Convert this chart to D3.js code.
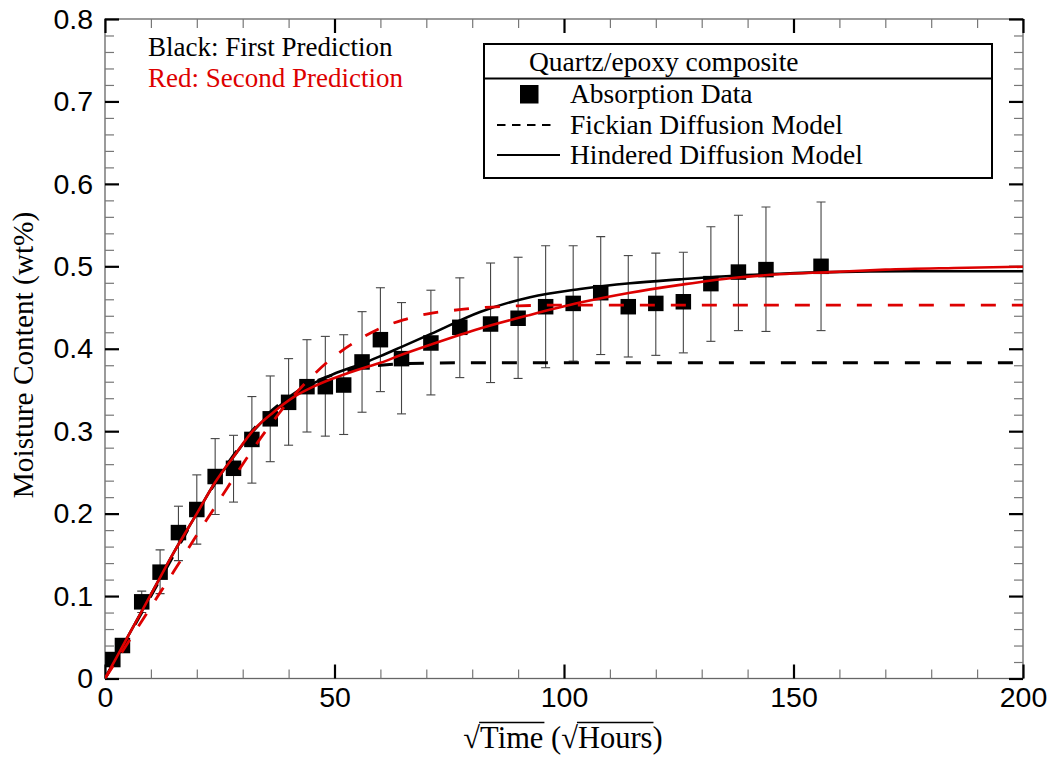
<!DOCTYPE html>
<html><head><meta charset="utf-8">
<script src="https://cdn.jsdelivr.net/npm/d3@7"></script>
<style>body{margin:0;background:#fff}svg{display:block}</style>
</head><body>
<script>
// ---- data ----
const xMajorTicks = [0, 50, 100, 150, 200];
const xMinorTicks = [10,20,30,40,60,70,80,90,110,120,130,140,160,170,180,190];
const yMajorTicks = [0, 0.1, 0.2, 0.3, 0.4, 0.5, 0.6, 0.7, 0.8];
const yMinorTicks = [0.02,0.04,0.06,0.08,0.12,0.14,0.16,0.18,0.22,0.24,0.26,0.28,0.32,0.34,0.36,0.38,0.42,0.44,0.46,0.48,0.52,0.54,0.56,0.58,0.62,0.64,0.66,0.68,0.72,0.74,0.76,0.78];

const dataX   = [1.7, 3.8, 8, 12, 16, 20, 24, 28, 32, 36, 40, 44, 48, 52, 56, 60, 64.6, 71, 77.3, 84, 90, 96, 102, 108, 114, 120, 126, 132, 138, 144, 156];
const dataY   = [0.023,0.040,0.093,0.129,0.177,0.205,0.245,0.255,0.290,0.315,0.335,0.354,0.354,0.356,0.384,0.411,0.388,0.407,0.426,0.430,0.437,0.451,0.455,0.468,0.451,0.455,0.457,0.479,0.493,0.496,0.500];
const errHigh = [0.027,0.045,0.106,0.156,0.209,0.247,0.291,0.295,0.342,0.367,0.388,0.411,0.415,0.417,0.445,0.474,0.456,0.471,0.486,0.504,0.511,0.525,0.525,0.536,0.513,0.516,0.517,0.548,0.562,0.572,0.578];
const errLow  = [0.019,0.035,0.080,0.103,0.143,0.163,0.199,0.214,0.237,0.263,0.283,0.299,0.294,0.296,0.323,0.348,0.321,0.344,0.365,0.359,0.364,0.377,0.385,0.393,0.390,0.392,0.395,0.409,0.422,0.421,0.422];

// First prediction (black)
const fick1X = [0,5,10,15,20,25,30,35,40,45,50,55,60,70,80,200];
const fick1Y = [0,0.050,0.100,0.150,0.1995,0.246,0.286,0.318,0.341,0.358,0.369,0.376,0.380,0.3825,0.383,0.383];
const hind1X = [0,5,10,15,20,24,28,32,36,40,45.4,49.7,57,60,64.5,71,81.7,92.6,103.5,114.4,125.3,136.2,147,158,175,200];
const hind1Y = [0,0.051,0.102,0.153,0.200,0.238,0.269,0.298,0.321,0.339,0.358,0.369,0.384,0.391,0.402,0.418,0.4446,0.4626,0.4725,0.4795,0.4842,0.4883,0.491,0.493,0.494,0.494];
// Second prediction (red)
const fick2X = [0,5,10,15,20,25,30,35,40,45,50,55,60,65,70,75,80,90,100,200];
const fick2Y = [0,0.0434,0.0869,0.130,0.174,0.217,0.260,0.300,0.336,0.366,0.391,0.410,0.425,0.435,0.442,0.446,0.449,0.452,0.453,0.453];
const hind2X = [0,5,10,15,20,24,28,32.3,36.7,41,45.4,49.7,57,60,64.3,71,81.7,92.6,103.5,114.4,125.3,136.2,147,158,170,185,200];
const hind2Y = [0,0.051,0.102,0.153,0.200,0.238,0.269,0.301,0.323,0.341,0.354,0.364,0.378,0.383,0.392,0.405,0.4245,0.441,0.456,0.468,0.4775,0.4856,0.4903,0.493,0.496,0.498,0.4995];

const legendTitle = "Quartz/epoxy composite";
const legendLabels = ["Absorption Data", "Fickian Diffusion Model", "Hindered Diffusion Model"];
const noteLabels = ["Black: First Prediction", "Red: Second Prediction"];

// ---- drawing ----
const W = 1056, H = 759;
const RED = "#dd0000";
const serif = "'Liberation Serif','Times New Roman',serif";
const sans = "'Liberation Sans',Arial,sans-serif";

const svg = d3.select("body").append("svg").attr("width", W).attr("height", H);
const x = d3.scaleLinear().domain([0, 200]).range([105, 1023]);
const y = d3.scaleLinear().domain([0, 0.8]).range([678.5, 19]);

// frame
svg.append("rect").attr("x", x(0)).attr("y", y(0.8))
  .attr("width", x(200) - x(0)).attr("height", y(0) - y(0.8))
  .attr("fill", "none").attr("stroke", "#666").attr("stroke-width", 1.3);

function styleAxis(g, major) {
  g.select(".domain").remove();
  g.selectAll(".tick line").attr("stroke", major ? "#000" : "#777").attr("stroke-width", major ? 2.2 : 1.2);
  g.selectAll(".tick text").attr("font-family", sans).attr("font-size", 28.5).attr("fill", "#000");
}
// minor
svg.append("g").attr("transform", `translate(0,${y(0)})`).call(d3.axisBottom(x).tickValues(xMinorTicks).tickSize(-9).tickFormat("")).call(g => styleAxis(g, false));
svg.append("g").attr("transform", `translate(0,${y(0.8)})`).call(d3.axisTop(x).tickValues(xMinorTicks).tickSize(-9).tickFormat("")).call(g => styleAxis(g, false));
svg.append("g").attr("transform", `translate(${x(0)},0)`).call(d3.axisLeft(y).tickValues(yMinorTicks).tickSize(-9).tickFormat("")).call(g => styleAxis(g, false));
svg.append("g").attr("transform", `translate(${x(200)},0)`).call(d3.axisRight(y).tickValues(yMinorTicks).tickSize(-9).tickFormat("")).call(g => styleAxis(g, false));
// major
svg.append("g").attr("transform", `translate(0,${y(0)})`).call(d3.axisBottom(x).tickValues(xMajorTicks).tickSize(-14).tickPadding(8.5).tickFormat(d3.format("d"))).call(g => styleAxis(g, true));
svg.append("g").attr("transform", `translate(0,${y(0.8)})`).call(d3.axisTop(x).tickValues(xMajorTicks).tickSize(-14).tickFormat("")).call(g => styleAxis(g, true));
svg.append("g").attr("transform", `translate(${x(0)},0)`).call(d3.axisLeft(y).tickValues(yMajorTicks).tickSize(-14).tickPadding(12).tickFormat(d => d === 0 ? "0" : d3.format(".1f")(d))).call(g => styleAxis(g, true));
svg.append("g").attr("transform", `translate(${x(200)},0)`).call(d3.axisRight(y).tickValues(yMajorTicks).tickSize(-14).tickFormat("")).call(g => styleAxis(g, true));

// clip
svg.append("clipPath").attr("id", "plotclip").append("rect")
  .attr("x", x(0)).attr("y", y(0.8)).attr("width", x(200) - x(0)).attr("height", y(0) - y(0.8));
const plot = svg.append("g").attr("clip-path", "url(#plotclip)");

// error bars
const pts = dataX.map((d, i) => ({x: d, y: dataY[i], hi: errHigh[i], lo: errLow[i]}));
const eb = plot.append("g").attr("stroke", "#444").attr("stroke-width", 1.1).attr("fill", "none");
pts.forEach(p => {
  eb.append("line").attr("x1", x(p.x)).attr("x2", x(p.x)).attr("y1", y(p.hi)).attr("y2", y(p.lo));
  eb.append("line").attr("x1", x(p.x) - 4.5).attr("x2", x(p.x) + 4.5).attr("y1", y(p.hi)).attr("y2", y(p.hi));
  eb.append("line").attr("x1", x(p.x) - 4.5).attr("x2", x(p.x) + 4.5).attr("y1", y(p.lo)).attr("y2", y(p.lo));
});
// squares
const S = 15.5;
plot.append("g").selectAll("rect").data(pts).join("rect")
  .attr("x", d => x(d.x) - S / 2).attr("y", d => y(d.y) - S / 2)
  .attr("width", S).attr("height", S).attr("fill", "#000");

// curves
const line = d3.line().x(d => x(d[0])).y(d => y(d[1])).curve(d3.curveMonotoneX);
const zip = (a, b) => a.map((v, i) => [v, b[i]]);
plot.append("path").attr("d", line(zip(fick1X, fick1Y))).attr("fill", "none").attr("stroke", "#000").attr("stroke-width", 3).attr("stroke-dasharray", "15 16");
plot.append("path").attr("d", line(zip(hind1X, hind1Y))).attr("fill", "none").attr("stroke", "#000").attr("stroke-width", 2.6);
plot.append("path").attr("d", line(zip(fick2X, fick2Y))).attr("fill", "none").attr("stroke", RED).attr("stroke-width", 2.8).attr("stroke-dasharray", "15 16");
plot.append("path").attr("d", line(zip(hind2X, hind2Y))).attr("fill", "none").attr("stroke", RED).attr("stroke-width", 2.6);

// notes
svg.append("text").attr("x", 148).attr("y", 56).attr("font-family", serif).attr("font-size", 27).attr("fill", "#000").text(noteLabels[0]);
svg.append("text").attr("x", 148).attr("y", 87).attr("font-family", serif).attr("font-size", 27).attr("fill", RED).text(noteLabels[1]);

// legend
const lg = svg.append("g");
lg.append("rect").attr("x", 484).attr("y", 44).attr("width", 508).attr("height", 134).attr("fill", "#fff").attr("stroke", "#000").attr("stroke-width", 2);
lg.append("line").attr("x1", 484).attr("x2", 992).attr("y1", 78.5).attr("y2", 78.5).attr("stroke", "#000").attr("stroke-width", 2);
lg.append("text").attr("x", 529).attr("y", 71).attr("font-family", serif).attr("font-size", 27.5).text(legendTitle);
lg.append("rect").attr("x", 520).attr("y", 85).attr("width", 18.5).attr("height", 18.5).attr("fill", "#000");
lg.append("line").attr("x1", 497).attr("x2", 552).attr("y1", 125).attr("y2", 125).attr("stroke", "#000").attr("stroke-width", 2).attr("stroke-dasharray", "8.5 6.5");
lg.append("line").attr("x1", 497).attr("x2", 560).attr("y1", 155).attr("y2", 155).attr("stroke", "#000").attr("stroke-width", 2);
const rowY = [103, 134, 164];
legendLabels.forEach((t, i) => lg.append("text").attr("x", 570).attr("y", rowY[i]).attr("font-family", serif).attr("font-size", 27.5).text(t));

// y label
svg.append("text").attr("transform", "translate(33,355) rotate(-90)").attr("text-anchor", "middle")
  .attr("font-family", serif).attr("font-size", 29.3).text("Moisture Content (wt%)");

// x label with overlines
const xl = svg.append("text").attr("x", 563).attr("y", 748).attr("text-anchor", "middle")
  .attr("font-family", serif).attr("font-size", 30.5).text("\u221ATime (\u221AHours)");
const n = xl.node();
const e0 = n.getExtentOfChar(0), e4 = n.getExtentOfChar(4), e7 = n.getExtentOfChar(7), e12 = n.getExtentOfChar(12);
const oy = Math.min(e0.y, e7.y) + 1.5;
svg.append("line").attr("x1", e0.x + e0.width - 1).attr("x2", e4.x + e4.width + 1).attr("y1", oy).attr("y2", oy).attr("stroke", "#000").attr("stroke-width", 1.4);
svg.append("line").attr("x1", e7.x + e7.width - 1).attr("x2", e12.x + e12.width + 1).attr("y1", oy).attr("y2", oy).attr("stroke", "#000").attr("stroke-width", 1.4);
</script>
</body></html>
